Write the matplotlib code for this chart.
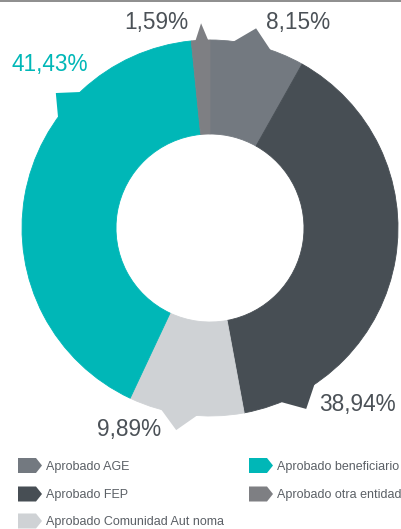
import numpy as np
import matplotlib
matplotlib.use("Agg")
import matplotlib.pyplot as plt
from matplotlib.patches import Polygon

# data, clockwise from 12 o'clock
labels = ['Aprobado AGE', 'Aprobado FEP', 'Aprobado Comunidad Aut noma',
          'Aprobado beneficiario', 'Aprobado otra entidad']
values = [8.15, 38.94, 9.89, 41.43, 1.59]
value_text = ['8,15%', '38,94%', '9,89%', '41,43%', '1,59%']
colors = ['#737980', '#474e54', '#cfd2d5', '#00b7b7', '#7e7f83']

# layout (pixel coords, origin bottom-left)
W, H = 401, 529
cx, cy = 210, 301
R, ring = 188, 94
tab_angle = [77, -62, -99.5, 138.8, 92.5]
tab_half = [7, 7, 6.7, 6.2, 2.3]
label_pos = [(266, 500), (319, 118), (97, 93), (11, 458), (124, 500)]
label_col = ['#4b5157', '#4b5157', '#4b5157', '#00b7b7', '#4b5157']

fig = plt.figure(figsize=(W / 100, H / 100), dpi=100)
ax = fig.add_axes([0, 0, 1, 1])

wedges, _ = ax.pie(values, colors=colors, startangle=90, counterclock=False,
                   radius=R, center=(cx, cy),
                   wedgeprops=dict(width=ring, linewidth=0.6))
for w, c in zip(wedges, colors):
    w.set_edgecolor(c)

# little pointer tabs on the outer edge
for ang, hw, c in zip(tab_angle, tab_half, colors):
    a0, a1, a = np.radians([ang - hw, ang + hw, ang])
    pts = [(cx + (R - 3) * np.cos(a0), cy + (R - 3) * np.sin(a0)),
           (cx + R * 1.09 * np.cos(a), cy + R * 1.09 * np.sin(a)),
           (cx + (R - 3) * np.cos(a1), cy + (R - 3) * np.sin(a1))]
    ax.add_patch(Polygon(pts, closed=True, color=c, lw=0))

for t, (x, y), c in zip(value_text, label_pos, label_col):
    ax.text(x, y, t, color=c, fontsize=16.3, family='Liberation Sans',
            ha='left', va='baseline')

# legend
leg_x = [18, 18, 18, 249, 249]
leg_y = [H - 465.5, H - 494, H - 521, H - 465.5, H - 494]
for lab, c, x, y in zip(labels, colors, leg_x, leg_y):
    ax.add_patch(Polygon([(x, y - 7.5), (x + 18, y - 7.5), (x + 24, y),
                          (x + 18, y + 7.5), (x, y + 7.5)],
                         closed=True, color=c, lw=0))
    ax.text(x + 28, y - 4.2, lab, color='#5b6066', fontsize=9.0,
            family='Liberation Sans', ha='left', va='baseline')

# thin rule across the top
ax.plot([0, W], [H - 0.5, H - 0.5], color='#7a7a7a', lw=1.2)

ax.set_xlim(0, W)
ax.set_ylim(0, H)
ax.set_aspect('auto')
ax.set_axis_off()

fig.savefig('out.png', dpi=100)
